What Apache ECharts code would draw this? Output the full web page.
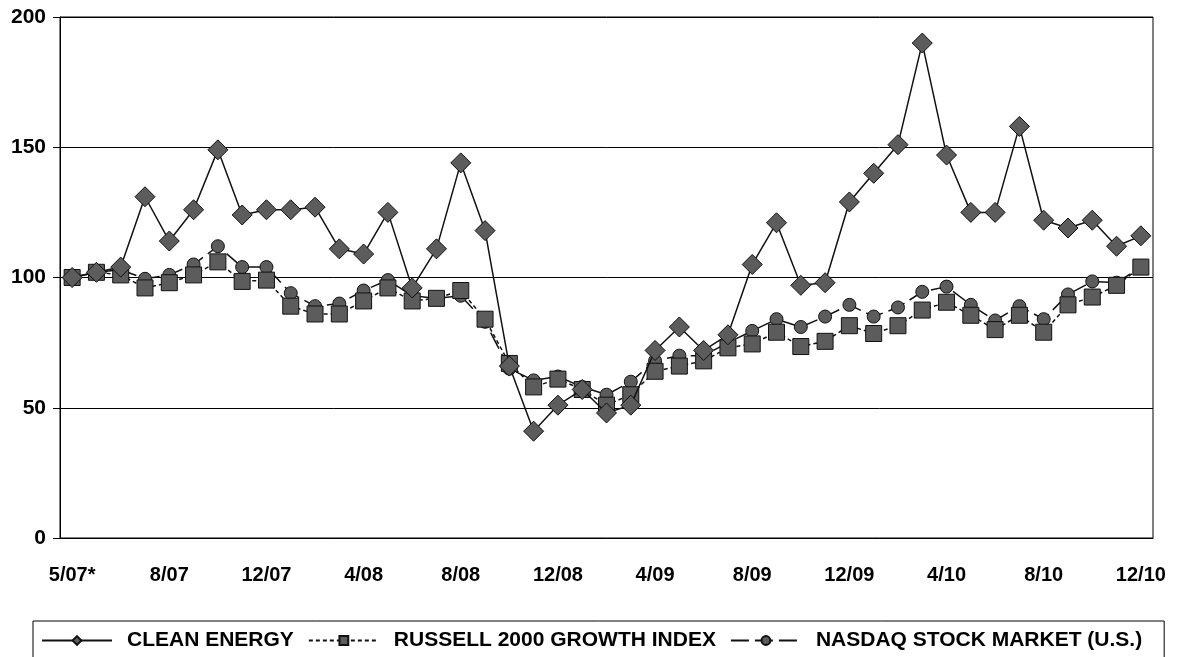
<!DOCTYPE html>
<html>
<head>
<meta charset="utf-8">
<script src="https://cdn.jsdelivr.net/npm/echarts@6/dist/echarts.min.js"></script>
<style>
  html, body { margin: 0; padding: 0; background: #fff; }
  #chart { width: 1193px; height: 657px; }
</style>
</head>
<body>
<div id="chart"></div>
<script>
// month labels, one per point (first point is the start date)
const months = [
  "5/07*", "5/07", "6/07", "7/07", "8/07", "9/07", "10/07", "11/07", "12/07",
  "1/08", "2/08", "3/08", "4/08", "5/08", "6/08", "7/08", "8/08", "9/08", "10/08", "11/08", "12/08",
  "1/09", "2/09", "3/09", "4/09", "5/09", "6/09", "7/09", "8/09", "9/09", "10/09", "11/09", "12/09",
  "1/10", "2/10", "3/10", "4/10", "5/10", "6/10", "7/10", "8/10", "9/10", "10/10", "11/10", "12/10"
];

const cleanEnergy = [100, 102, 104, 131, 114, 126, 149, 124, 126, 126, 127, 111, 109, 125, 96, 111, 144, 118, 66, 41, 51, 57, 48, 51,
  72, 81, 72, 78, 105, 121, 97, 98, 129, 140, 151, 190, 147, 125, 125, 158, 122, 119, 122, 112, 116];
const russell2000 = [100, 102, 101, 96, 98, 101, 106, 98.5, 99, 89, 86, 86, 91, 96, 91, 92, 95, 84, 67, 58, 61, 57, 51, 55,
  64, 66, 68, 73, 74.5, 79, 73.5, 75.5, 81.5, 78.5, 81.5, 87.5, 90.5, 85.5, 80, 85.5, 79, 89.5, 92.5, 97, 104];
const nasdaq = [100, 102, 103, 99.5, 101, 105, 112, 104, 104, 94, 89, 90, 95, 99, 93, 92, 93, 83, 65, 60.5, 62, 58, 55, 60,
  68, 70, 70, 75, 79.5, 84, 81, 85, 89.5, 85, 88.5, 94.5, 96.5, 89.5, 83.5, 89, 84, 93.5, 98.5, 98, 104];

const names = ["CLEAN ENERGY", "RUSSELL 2000 GROWTH INDEX", "NASDAQ STOCK MARKET (U.S.)"];

const font = "'Liberation Sans', Arial, Helvetica, sans-serif";
const markFill = "#5c5c5c";

const chart = echarts.init(document.getElementById("chart"));

chart.setOption({
  animation: false,
  backgroundColor: "#fff",
  grid: {
    left: 60,
    right: 40,
    top: 17,
    bottom: 119,
    show: true,
    borderColor: "#000",
    borderWidth: 1
  },
  legend: {
    data: names,
    left: 33,
    top: 621,
    orient: "horizontal",
    itemWidth: 70,
    itemHeight: 11,
    itemGap: 14,
    padding: [9, 22, 30, 8],
    borderColor: "#000",
    borderWidth: 1,
    textStyle: {
      fontFamily: font,
      fontSize: 21,
      fontWeight: "bold",
      color: "#000",
      padding: [0, 0, 0, 10]
    }
  },
  xAxis: {
    type: "category",
    data: months,
    boundaryGap: true,
    axisLine: { lineStyle: { color: "#000", width: 1 } },
    axisTick: { show: false },
    axisLabel: {
      interval: 3,
      margin: 27,
      fontFamily: font,
      fontSize: 20,
      fontWeight: "bold",
      color: "#000"
    },
    splitLine: { show: false }
  },
  yAxis: {
    type: "value",
    min: 0,
    max: 200,
    interval: 50,
    axisLine: { show: true, lineStyle: { color: "#000", width: 1 } },
    axisTick: { show: true, length: 7, lineStyle: { color: "#000" } },
    axisLabel: {
      margin: 14,
      fontFamily: font,
      fontSize: 21,
      fontWeight: "bold",
      color: "#000"
    },
    splitLine: { show: true, lineStyle: { color: "#000", width: 1 } }
  },
  series: [
    {
      name: names[2],
      type: "line",
      data: nasdaq,
      symbol: "circle",
      symbolSize: 13,
      showAllSymbol: true,
      z: 2,
      lineStyle: { color: "#111", width: 1.5, type: [18, 6] },
      itemStyle: { color: markFill, borderColor: "#111", borderWidth: 1 }
    },
    {
      name: names[1],
      type: "line",
      data: russell2000,
      symbol: "rect",
      symbolSize: 16,
      showAllSymbol: true,
      z: 3,
      lineStyle: { color: "#111", width: 1.5, type: [4, 3] },
      itemStyle: { color: markFill, borderColor: "#111", borderWidth: 1 }
    },
    {
      name: names[0],
      type: "line",
      data: cleanEnergy,
      symbol: "diamond",
      symbolSize: 20,
      showAllSymbol: true,
      z: 4,
      lineStyle: { color: "#111", width: 1.5, type: "solid" },
      itemStyle: { color: markFill, borderColor: "#111", borderWidth: 1 }
    }
  ]
});
</script>
</body>
</html>
